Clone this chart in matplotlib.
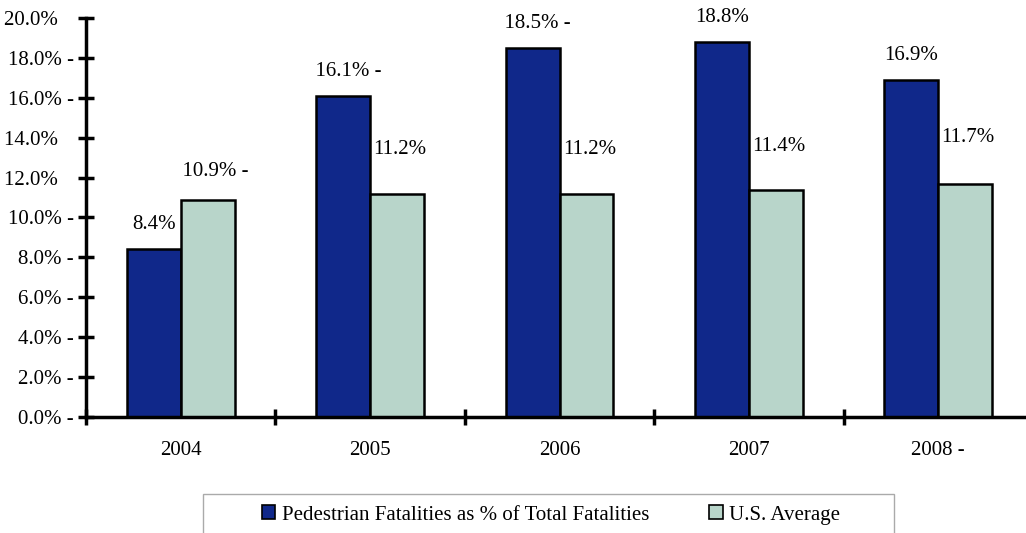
import matplotlib.pyplot as plt
from matplotlib.patches import Patch, Rectangle
import numpy as np

plt.rcParams['font.family'] = ['Liberation Serif', 'DejaVu Serif']

years = ['2004', '2005', '2006', '2007', '2008 -']
pedestrian = [8.4, 16.1, 18.5, 18.8, 16.9]
us_average = [10.9, 11.2, 11.2, 11.4, 11.7]
pedestrian_labels = ['8.4%', '16.1% -', '18.5% -', '18.8%', '16.9%']
us_labels = ['10.9% -', '11.2%', '11.2%', '11.4%', '11.7%']
yticks = [0, 2, 4, 6, 8, 10, 12, 14, 16, 18, 20]
ytick_labels = ['0.0% -', '2.0% -', '4.0% -', '6.0% -', '8.0% -', '10.0% -',
                '12.0%', '14.0%', '16.0% -', '18.0% -', '20.0%']

blue = '#10288a'
green = '#b8d5ca'
fs = 15

W, H = 1026, 533
fig = plt.figure(figsize=(W / 100, H / 100), dpi=100)
ax = fig.add_axes([86 / W, (H - 417) / H, 947 / W, (417 - 18) / H])

x = np.arange(len(years))
bw = 0.285
ax.bar(x - bw / 2, pedestrian, bw, color=blue, edgecolor='black', linewidth=1.8)
ax.bar(x + bw / 2, us_average, bw, color=green, edgecolor='black', linewidth=1.8)

# value labels above the bars (trailing dash balanced with leading spaces)
us_offsets = [13, 25, 25, 24, 26]
for i in range(len(years)):
    lab = pedestrian_labels[i]
    if lab.endswith(' -'):
        lab = '  ' + lab
    ax.annotate(lab, (x[i] - bw / 2, pedestrian[i]), xytext=(0, 11),
                textcoords='offset points', ha='center', va='bottom', fontsize=fs)
    lab = us_labels[i]
    if lab.endswith(' -'):
        lab = '  ' + lab
    ax.annotate(lab, (x[i] + bw / 2, us_average[i]), xytext=(2, us_offsets[i]),
                textcoords='offset points', ha='center', va='bottom', fontsize=fs)

ax.set_xlim(-0.5, len(years) - 0.5)
ax.set_ylim(0, 20)

ax.set_yticks(yticks)
ax.set_yticklabels([t if t.endswith(' -') else t + '   ' for t in ytick_labels], fontsize=fs)
ax.set_xticks(np.arange(len(years) + 1) - 0.5)
ax.set_xticks(x, minor=True)
ax.set_xticklabels([])
ax.set_xticklabels(years, minor=True, fontsize=fs)
ax.tick_params(axis='x', which='minor', length=0, pad=17)
ax.tick_params(axis='both', which='major', direction='inout', length=12, width=2.5)
ax.tick_params(axis='y', pad=3)

for s in ['top', 'right']:
    ax.spines[s].set_visible(False)
for s in ['left', 'bottom']:
    ax.spines[s].set_linewidth(2.5)

# legend box at the bottom
fig.patches.append(Rectangle((203 / W, -0.05), 691 / W, (H - 494) / H + 0.05,
                             transform=fig.transFigure, facecolor='white',
                             edgecolor='#aaaaaa', linewidth=1))
handles = [Patch(facecolor=blue, edgecolor='black', linewidth=1.2),
           Patch(facecolor=green, edgecolor='black', linewidth=1.2)]
fig.legend(handles, ['Pedestrian Fatalities as % of Total Fatalities', 'U.S. Average'],
           loc='center', bbox_to_anchor=(551 / W, (H - 515) / H), ncol=2,
           frameon=False, fontsize=fs, handlelength=0.65, handleheight=0.65,
           handletextpad=0.3, columnspacing=2.9, borderpad=0)

fig.savefig('out.png', dpi=100)
